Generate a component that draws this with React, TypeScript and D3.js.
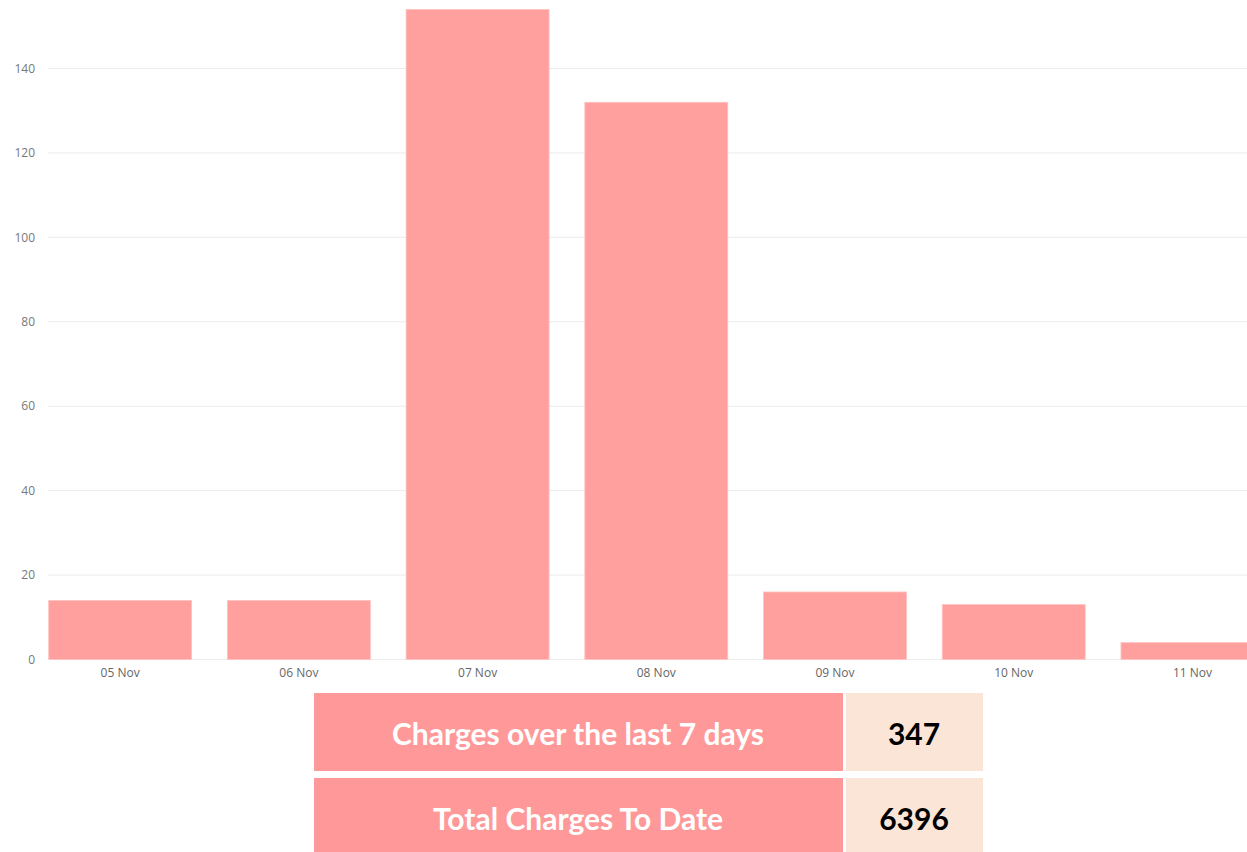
import React from "react";
import * as d3 from "d3";

const categories = ["05 Nov", "06 Nov", "07 Nov", "08 Nov", "09 Nov", "10 Nov", "11 Nov"];
const charges = [14, 14, 154, 132, 16, 13, 4];
const yTicks = [0, 20, 40, 60, 80, 100, 120, 140];
const summaryLabels = ["Charges over the last 7 days", "Total Charges To Date"];
const summaryValues = ["347", "6396"];

const W = 1247;
const H = 852;

export default function App() {
  const x = d3
    .scaleBand<string>()
    .domain(categories)
    .range([30.8, 30.8 + 1251])
    .paddingInner(0.2)
    .paddingOuter(0.1);
  const y = d3.scaleLinear().domain([0, 140]).range([659.5, 68.5]);

  const rowTop = [693, 778];
  const rowH = [78, 74];

  return (
    <div style={{ position: "absolute", left: 0, top: 0, width: W, height: H, background: "#fff" }}>
      <svg width={W} height={H} style={{ display: "block" }}>
        {yTicks.map((t) => (
          <g key={t}>
            <line x1={48} x2={W} y1={y(t)} y2={y(t)} stroke="#ececec" strokeWidth={1} />
            <text
              x={35}
              y={y(t)}
              dy="0.35em"
              textAnchor="end"
              fontFamily="'Open Sans', sans-serif"
              fontSize={12}
              fill="#777"
            >
              {t}
            </text>
          </g>
        ))}
        {categories.map((c, i) => (
          <g key={c}>
            <rect
              x={x(c)!}
              y={y(charges[i])}
              width={x.bandwidth()}
              height={y(0) - y(charges[i])}
              fill="#ffa09e"
              stroke="#ffc4c2"
              strokeWidth={0.8}
            />
            <text
              x={x(c)! + x.bandwidth() / 2}
              y={673}
              dy="0.35em"
              textAnchor="middle"
              fontFamily="'Open Sans', sans-serif"
              fontSize={12}
              fill="#666"
            >
              {c}
            </text>
          </g>
        ))}
        {summaryLabels.map((lab, i) => (
          <g key={lab}>
            <rect x={314} y={rowTop[i]} width={529} height={rowH[i]} fill="#ff9999" />
            <rect x={846} y={rowTop[i]} width={137} height={rowH[i]} fill="#fbe5d6" />
            <text
              x={578}
              y={rowTop[i] + 41}
              dy="0.35em"
              textAnchor="middle"
              fontFamily="Lato, sans-serif"
              fontWeight="bold"
              fontSize={30}
              fill="#fff"
            >
              {lab}
            </text>
            <text
              x={914}
              y={rowTop[i] + 41}
              dy="0.35em"
              textAnchor="middle"
              fontFamily="Lato, sans-serif"
              fontWeight="bold"
              fontSize={30}
              fill="#000"
            >
              {summaryValues[i]}
            </text>
          </g>
        ))}
      </svg>
    </div>
  );
}
